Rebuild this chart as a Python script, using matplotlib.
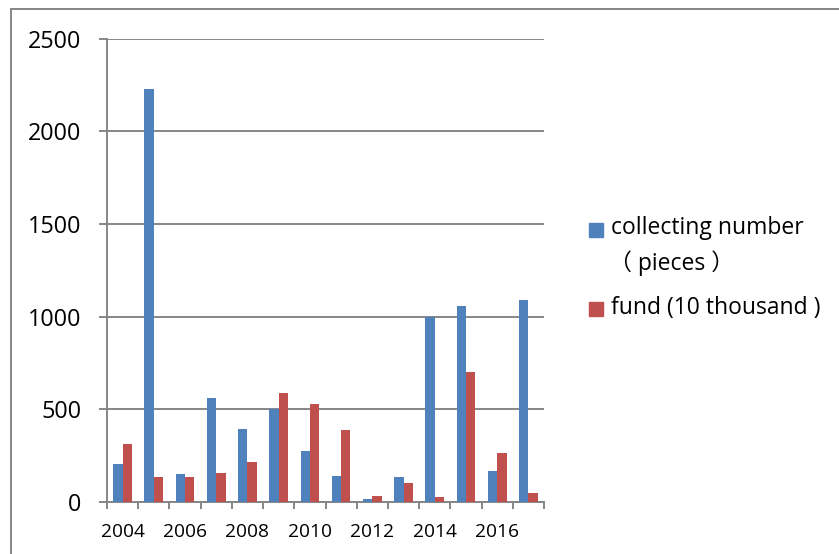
import matplotlib
matplotlib.use("Agg")
import matplotlib.pyplot as plt
import numpy as np
from matplotlib.patches import Rectangle
from matplotlib.lines import Line2D

years = [2004, 2005, 2006, 2007, 2008, 2009, 2010, 2011, 2012, 2013, 2014, 2015, 2016, 2017]
collecting_number = [203, 2228, 150, 562, 393, 504, 275, 140, 15, 137, 1000, 1055, 167, 1089]
fund = [311, 133, 133, 155, 214, 589, 531, 389, 32, 101, 27, 700, 265, 47]
year_labels = ["2004", "2006", "2008", "2010", "2012", "2014", "2016"]
series_names = ["collecting number", "\uff08 pieces \uff09", "fund (10 thousand )"]

BLUE = "#4F81BD"
RED = "#C0504D"
GRID = "#868686"
FONT = ["Open Sans", "Noto Sans CJK SC", "DejaVu Sans"]
plt.rcParams['font.family'] = FONT

W, H = 839, 554
fig = plt.figure(figsize=(W / 100, H / 100), dpi=100)
ax = fig.add_axes([107 / W, 1 - 502 / H, (544 - 107) / W, (502 - 38.5) / H])

x = np.arange(len(years))
bw = 0.3
ax.bar(x - bw / 2, collecting_number, bw, color=BLUE, zorder=3)
ax.bar(x + bw / 2, fund, bw, color=RED, zorder=3)

ax.set_xlim(-0.5, len(years) - 0.5)
ax.set_ylim(0, 2500)
ax.set_yticks([0, 500, 1000, 1500, 2000, 2500])
ax.yaxis.grid(True, color=GRID, linewidth=1.4, zorder=0)
ax.tick_params(axis='y', length=5.5, width=1.4, color=GRID, pad=13, labelsize=16.8)

ax.set_xticks(np.arange(-0.5, len(years)), minor=False)
ax.set_xticklabels([])
ax.tick_params(axis='x', which='major', length=5, width=1.4, color=GRID, direction='out')
ax.set_xticks(np.arange(0, len(years), 2), minor=True)
ax.set_xticklabels(year_labels, minor=True)
ax.tick_params(axis='x', which='minor', length=0, pad=15, labelsize=13.8)

for s in ['top', 'right']:
    ax.spines[s].set_visible(False)
for s in ['left', 'bottom']:
    ax.spines[s].set_color(GRID)
    ax.spines[s].set_linewidth(1.4)

# outer border
fig.add_artist(Line2D([11 / W, 1.0], [1 - 9 / H, 1 - 9 / H], color=GRID, linewidth=1.4, transform=fig.transFigure))
fig.add_artist(Line2D([11 / W, 11 / W], [1 - 9 / H, 0], color=GRID, linewidth=1.4, transform=fig.transFigure))

# legend (manual)
sq = 14
fig.add_artist(Rectangle((589 / W, 1 - (229.5 + sq / 2) / H), sq / W, sq / H, color=BLUE, transform=fig.transFigure))
fig.add_artist(Rectangle((589 / W, 1 - (309 + sq / 2) / H), sq / W, sq / H, color=RED, transform=fig.transFigure))
fig.text(611 / W, 1 - 228 / H, series_names[0], fontsize=16.5, va='center', ha='left')
fig.text(609 / W, 1 - 263 / H, series_names[1], fontsize=16.5, va='center', ha='left')
fig.text(611 / W, 1 - 308 / H, series_names[2], fontsize=16.5, va='center', ha='left')

fig.savefig("out.png", dpi=100)
